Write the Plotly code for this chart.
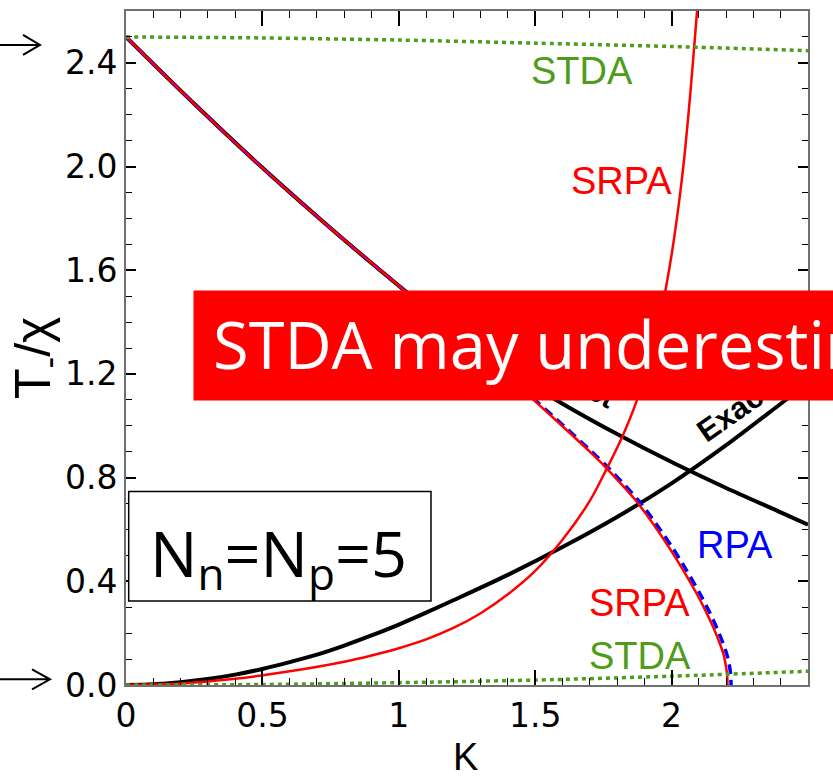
import plotly.graph_objects as go

# ---------------- data ----------------
# Exact, upper branch (black)
k_exact_up = [0, 0.125, 0.25, 0.5, 0.75, 1.0, 1.2, 1.4, 1.6, 1.8, 2.0, 2.2, 2.4, 2.5]
t_exact_up = [2.5, 2.37, 2.242, 1.995, 1.762, 1.54, 1.37, 1.215, 1.085, 0.968, 0.86, 0.76, 0.666, 0.618]

# Exact, lower branch (black)
k_exact_lo = [0, 0.1, 0.2, 0.3, 0.4, 0.5, 0.6, 0.7, 0.8, 0.9, 1.0, 1.1, 1.2, 1.4, 1.6, 1.8, 2.0, 2.2, 2.4, 2.5]
t_exact_lo = [0, 0.003, 0.011, 0.023, 0.04, 0.062, 0.088, 0.117, 0.152, 0.191, 0.233, 0.279, 0.327, 0.425, 0.532, 0.648, 0.778, 0.925, 1.085, 1.165]

# SRPA, descending branch (red)
k_srpa_dn = [0, 0.125, 0.25, 0.5, 0.75, 1.0, 1.1, 1.2, 1.3, 1.4, 1.5, 1.6, 1.7, 1.76, 1.82, 1.87, 1.93,
             1.994, 2.04, 2.092, 2.125, 2.153, 2.175, 2.19, 2.198, 2.203, 2.205]
t_srpa_dn = [2.5, 2.37, 2.242, 1.995, 1.762, 1.54, 1.452, 1.365, 1.277, 1.187, 1.094, 0.998, 0.9, 0.838, 0.77, 0.71, 0.625,
             0.525, 0.447, 0.352, 0.285, 0.222, 0.165, 0.12, 0.08, 0.045, 0.0]

# SRPA, rising branch (red)
k_srpa_up = [0, 0.2, 0.4, 0.6, 0.8, 0.9, 1.0, 1.1, 1.2, 1.3, 1.4, 1.5, 1.6, 1.7, 1.76, 1.82, 1.87,
             1.92, 1.96, 2.0, 2.03, 2.05, 2.07, 2.085, 2.1]
t_srpa_up = [0, 0.006, 0.024, 0.053, 0.09, 0.114, 0.142, 0.176, 0.22, 0.277, 0.35, 0.44, 0.56, 0.71, 0.83, 0.96, 1.09,
             1.26, 1.43, 1.66, 1.885, 2.07, 2.3, 2.49, 2.69]

# RPA (blue dashed)
k_rpa = [0, 0.125, 0.25, 0.5, 0.75, 1.0, 1.1, 1.2, 1.3, 1.403, 1.505, 1.606, 1.707, 1.768, 1.829, 1.88, 1.941,
         2.006, 2.052, 2.104, 2.137, 2.165, 2.187, 2.202, 2.211, 2.216, 2.218]
t_rpa = [2.5, 2.37, 2.242, 1.995, 1.762, 1.54, 1.452, 1.365, 1.277, 1.187, 1.094, 0.998, 0.9, 0.838, 0.77, 0.71, 0.625,
         0.525, 0.447, 0.352, 0.285, 0.222, 0.165, 0.12, 0.08, 0.045, 0.0]

# STDA (green dotted), two branches
k_stda = [0, 0.5, 1.0, 1.5, 2.0, 2.5]
t_stda_up = [2.5, 2.496, 2.488, 2.476, 2.463, 2.447]
t_stda_lo = [0, 0.002, 0.009, 0.019, 0.034, 0.053]

x_ticks = [0, 0.5, 1, 1.5, 2, 2.5]
x_ticklabels = ["0", "0.5", "1", "1.5", "2", "2.5"]
y_ticks = [0.0, 0.4, 0.8, 1.2, 1.6, 2.0, 2.4]
y_ticklabels = ["0.0", "0.4", "0.8", "1.2", "1.6", "2.0", "2.4"]

# ---------------- styling ----------------
RED = "#ff0000"
BLUE = "#0000ff"
GREEN = "#4f9c1c"
BLACK = "#000000"
W, H = 833, 778
ML, MR, MT, MB = 126, 25, 9, 93
PW, PH = W - ML - MR, H - MT - MB


def px(x):
    return (x - ML) / PW


def py(y):
    return (H - MB - y) / PH


fig = go.Figure()

spl = dict(shape="spline", smoothing=0.8)
fig.add_trace(go.Scatter(x=k_exact_up, y=t_exact_up, mode="lines",
                         line=dict(color=BLACK, width=4, **spl), showlegend=False))
fig.add_trace(go.Scatter(x=k_exact_lo, y=t_exact_lo, mode="lines",
                         line=dict(color=BLACK, width=4, **spl), showlegend=False))
fig.add_trace(go.Scatter(x=k_rpa, y=t_rpa, mode="lines",
                         line=dict(color=BLUE, width=3.5, dash="10px,6px", **spl), showlegend=False))
fig.add_trace(go.Scatter(x=k_srpa_dn, y=t_srpa_dn, mode="lines",
                         line=dict(color=RED, width=2.5, **spl), showlegend=False))
fig.add_trace(go.Scatter(x=k_srpa_up, y=t_srpa_up, mode="lines",
                         line=dict(color=RED, width=2.5, **spl), showlegend=False))
fig.add_trace(go.Scatter(x=k_stda, y=t_stda_up, mode="lines",
                         line=dict(color=GREEN, width=3.5, dash="4px,4px", **spl), showlegend=False))
fig.add_trace(go.Scatter(x=k_stda, y=t_stda_lo, mode="lines",
                         line=dict(color=GREEN, width=3.5, dash="4px,4px", **spl), showlegend=False))

axis_common = dict(
    showline=True, linecolor="#707070", linewidth=2, mirror="allticks",
    ticks="inside", tickcolor=BLACK, tickwidth=1.5,
    showgrid=False, zeroline=False,
    tickfont=dict(family="DejaVu Sans", size=33, color=BLACK),
)

fig.update_xaxes(range=[0, 2.5], tickmode="array", tickvals=x_ticks, ticktext=x_ticklabels,
                 ticklen=15,
                 minor=dict(dtick=0.1, tick0=0, ticks="inside", ticklen=7, tickwidth=1.2, tickcolor=BLACK),
                 **axis_common)
fig.update_yaxes(range=[0, 2.6], tickmode="array", tickvals=y_ticks, ticktext=y_ticklabels,
                 ticklen=10,
                 minor=dict(dtick=0.1, tick0=0, ticks="inside", ticklen=6, tickwidth=1.2, tickcolor=BLACK),
                 **axis_common)

lab_font = "Liberation Sans"
annotations = [
    dict(x=1.672, y=2.367, text="STDA", font=dict(family=lab_font, size=38, color=GREEN)),
    dict(x=1.818, y=1.944, text="SRPA", font=dict(family=lab_font, size=38, color=RED)),
    dict(x=2.232, y=0.54, text="RPA", font=dict(family=lab_font, size=38, color=BLUE)),
    dict(x=1.883, y=0.318, text="SRPA", font=dict(family=lab_font, size=38, color=RED)),
    dict(x=1.884, y=0.111, text="STDA", font=dict(family=lab_font, size=38, color=GREEN)),
    dict(x=2.232, y=1.058, text="<b>Exact</b>", textangle=-35,
         font=dict(family=lab_font, size=31, color=BLACK)),
    dict(x=1.66, y=1.168, text="<b>Exact</b>", textangle=28,
         font=dict(family=lab_font, size=29, color=BLACK)),
]
for a in annotations:
    a.update(xref="x", yref="y", showarrow=False, xanchor="center", yanchor="middle")

# axis titles
annotations.append(dict(xref="paper", yref="paper", x=px(465), y=py(757), text="K",
                        showarrow=False, xanchor="center", yanchor="middle",
                        font=dict(family=lab_font, size=38, color=BLACK)))
annotations.append(dict(xref="paper", yref="paper", x=px(37), y=py(357), text="T<sub>-</sub>/χ",
                        textangle=-90, showarrow=False, xanchor="center", yanchor="middle",
                        font=dict(family=lab_font, size=50, color=BLACK)))

# red banner (box then text)
annotations.append(dict(xref="paper", yref="paper", x=px(193), y=py(344.6), text="\u00a0",
                        showarrow=False, xanchor="left", yanchor="middle",
                        width=700, height=109, borderpad=0, bgcolor=RED,
                        font=dict(size=10)))
annotations.append(dict(xref="paper", yref="paper", x=px(211), y=py(343), text="STDA may underestimate",
                        showarrow=False, xanchor="left", yanchor="middle",
                        font=dict(family="Open Sans", size=65, color="white")))

# N_n = N_p = 5 label
annotations.append(dict(xref="paper", yref="paper", x=px(278), y=py(556),
                        text="N<sub>n</sub>=N<sub>p</sub>=5",
                        showarrow=False, xanchor="center", yanchor="middle",
                        font=dict(family="Open Sans", size=63, color=BLACK)))

shapes = [
    dict(type="rect", xref="paper", yref="paper", x0=px(128.7), x1=px(431), y0=py(600.7), y1=py(491),
         line=dict(color=BLACK, width=1.5), fillcolor="white", layer="above"),
    dict(type="path", xref="paper", yref="paper",
         path=f"M {px(0)} {py(43)} L {px(40)} {py(43)} M {px(23)} {py(33)} L {px(40)} {py(43)} L {px(23)} {py(53)}",
         line=dict(color=BLACK, width=2)),
    dict(type="path", xref="paper", yref="paper",
         path=f"M {px(0)} {py(679.3)} L {px(50)} {py(679.3)} M {px(32)} {py(669.3)} L {px(50)} {py(679.3)} L {px(32)} {py(689.3)}",
         line=dict(color=BLACK, width=2)),
]

fig.update_layout(
    width=W, height=H,
    margin=dict(l=ML, r=MR, t=MT, b=MB, pad=0),
    paper_bgcolor="white", plot_bgcolor="white",
    annotations=annotations, shapes=shapes,
    showlegend=False,
)

fig.write_html("out.html")
